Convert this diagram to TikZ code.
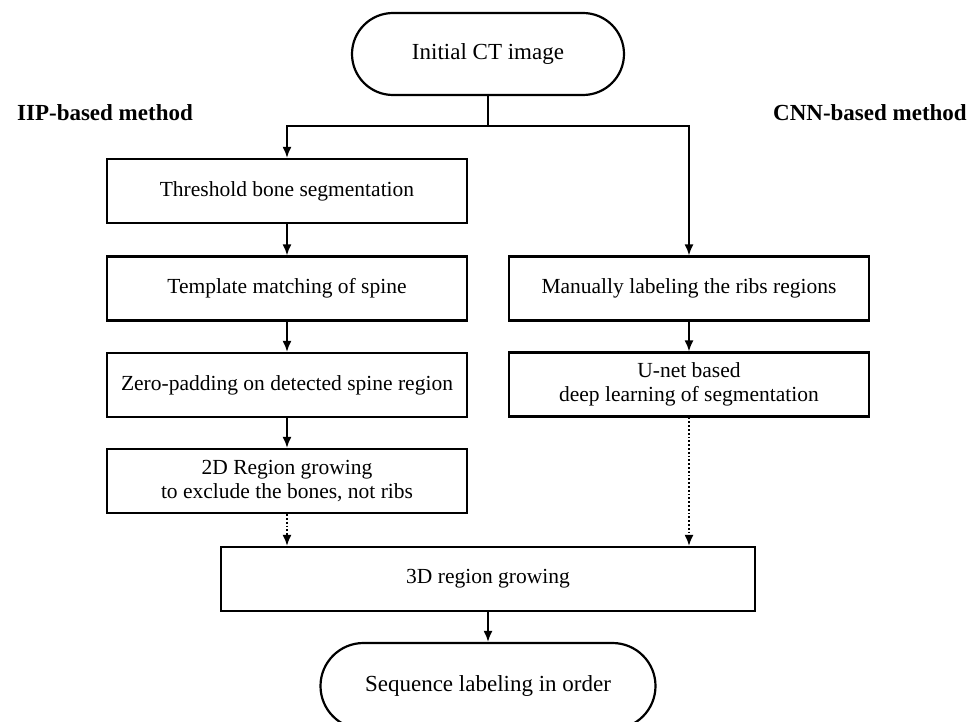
\documentclass[tikz,border=0pt]{standalone}
\usepackage{fontspec}
\setmainfont{Liberation Serif}
\usetikzlibrary{arrows.meta,shapes.misc}
\begin{document}
\begin{tikzpicture}[x=1pt,y=-1pt,
  box/.style={draw,line width=2.2pt,minimum width=360pt,minimum height=64pt,inner sep=0pt,align=center,font=\fontsize{21.5}{24}\selectfont},
  term/.style={draw,line width=2.2pt,rounded rectangle,inner sep=0pt,align=center,font=\fontsize{23}{26}\selectfont},
  plain/.style={line width=1.8pt},
  conn/.style={line width=1.8pt,-{Latex[length=11pt,width=9pt]}},
  dotconn/.style={conn,dotted},
  lbl/.style={font=\fontsize{23}{26}\selectfont\bfseries}]
\clip (0,0) rectangle (974,722);
\useasboundingbox (0,0) rectangle (974,722);

\node[term,minimum width=272pt,minimum height=82pt] (init) at (488,54) {Initial CT image};
\node[lbl] (iip) at (105,113) {IIP-based method};
\node[lbl] (cnn) at (870,113) {CNN-based method};

\node[box] (thr) at (287,191) {Threshold bone segmentation};
\node[box] (tmp) at (287,288.5) {Template matching of spine};
\node[box] (zero) at (287,385) {Zero-padding on detected spine region};
\node[box] (twod) at (287,481) {2D Region growing\\to exclude the bones, not ribs};

\node[box] (man) at (689,288.5) {Manually labeling the ribs regions};
\node[box] (unet) at (689,384.5) {U-net based\\deep learning of segmentation};

\node[box,minimum width=534pt] (thd) at (488,579) {3D region growing};
\node[term,minimum width=335pt,minimum height=86pt] (seq) at (488,686) {Sequence labeling in order};

\coordinate (bm) at (488,126);
\draw[plain] (init.south) -- (bm);
\draw[conn] (bm) -| (thr.north);
\draw[conn] (bm) -| (man.north);
\draw[conn] (thr) -- (tmp);
\draw[conn] (tmp) -- (zero);
\draw[conn] (zero) -- (twod);
\draw[conn] (man) -- (unet);
\draw[dotconn] (twod.south) -- (twod.south |- thd.north);
\draw[dotconn] (unet.south) -- (unet.south |- thd.north);
\draw[conn] (thd) -- (seq);
\end{tikzpicture}
\end{document}
